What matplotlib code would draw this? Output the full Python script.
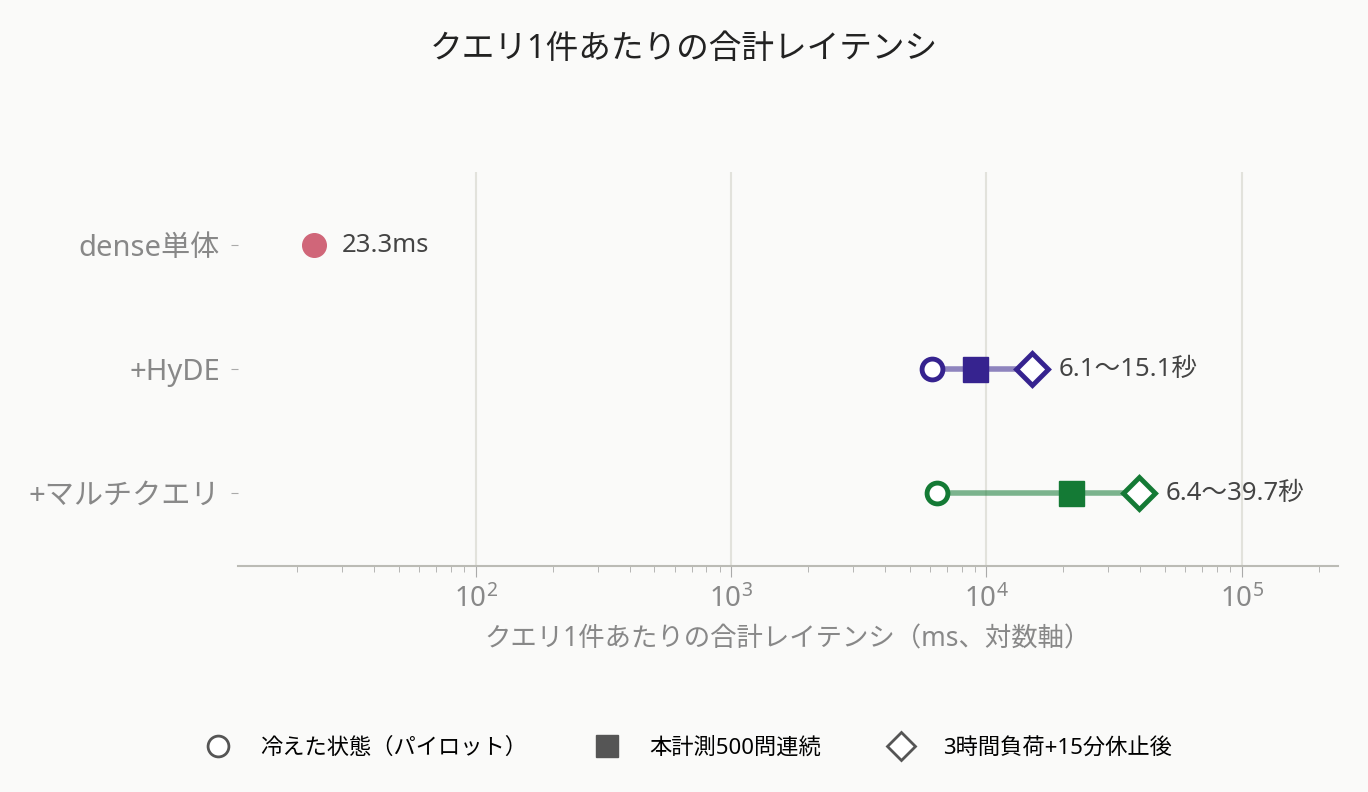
import numpy as np
import matplotlib
matplotlib.use("Agg")
import matplotlib.pyplot as plt
from matplotlib.lines import Line2D

plt.rcParams['font.family'] = ['Noto Sans', 'Noto Sans CJK JP', 'DejaVu Sans']

categories = ["dense単体", "+HyDE", "+マルチクエリ"]
cold_ms = [23.3, 6100, 6400]
main_ms = [None, 9000, 21500]
rest_ms = [None, 15100, 39700]
labels = ["23.3ms", "6.1〜15.1秒", "6.4〜39.7秒"]
colors = ["#d06679", "#36238f", "#147a35"]
legend_labels = ["冷えた状態（パイロット）", "本計測500問連続", "3時間負荷+15分休止後"]

bg = "#fafaf9"
fig = plt.figure(figsize=(13.68, 7.92), dpi=100, facecolor=bg)
ax = fig.add_axes([0.174, 0.285, 0.804, 0.498], facecolor=bg)

ax.set_xscale("log")
ax.set_xlim(11.7, 2.38e5)
ax.set_ylim(2.59, -0.59)

for i, cat in enumerate(categories):
    c = colors[i]
    if main_ms[i] is None:
        ax.plot(cold_ms[i], i, "o", ms=17, color=c, mec=c, zorder=3)
        ax.annotate(labels[i], (cold_ms[i], i), xytext=(20, 0), textcoords="offset points",
                    va="center", ha="left", fontsize=18.5, color="#444444")
    else:
        ax.plot([cold_ms[i], rest_ms[i]], [i, i], color=c, alpha=0.55, lw=4, zorder=2)
        ax.plot(cold_ms[i], i, "o", ms=15, mfc="white", mec=c, mew=3.5, zorder=3)
        ax.plot(main_ms[i], i, "s", ms=18, color=c, zorder=3)
        ax.plot(rest_ms[i], i, "D", ms=16, mfc="white", mec=c, mew=3.5, zorder=3)
        ax.annotate(labels[i], (rest_ms[i], i), xytext=(19, 0), textcoords="offset points",
                    va="center", ha="left", fontsize=18.5, color="#444444")

ax.set_yticks(range(len(categories)))
ax.set_yticklabels(categories, fontsize=21, color="#888888")
ax.tick_params(axis="y", length=5, color="#aaaaaa", pad=8)
ax.tick_params(axis="x", which="major", length=8, color="#aaaaaa", labelsize=20,
               labelcolor="#888888", pad=6)
ax.tick_params(axis="x", which="minor", length=4, color="#aaaaaa")

ax.grid(axis="x", which="major", color="#e2e2dc", lw=1.5)
ax.set_axisbelow(True)
for s in ["top", "right", "left"]:
    ax.spines[s].set_visible(False)
ax.spines["bottom"].set_color("#bbbbb5")
ax.spines["bottom"].set_linewidth(1.5)

ax.set_xlabel("クエリ1件あたりの合計レイテンシ（ms、対数軸）", fontsize=19, color="#888888", labelpad=8)
fig.suptitle("クエリ1件あたりの合計レイテンシ", fontsize=23.5, y=0.958, color="#222222")

handles = [
    Line2D([], [], marker="o", ls="", ms=15, mfc="white", mec="#555555", mew=2),
    Line2D([], [], marker="s", ls="", ms=16, color="#555555"),
    Line2D([], [], marker="D", ls="", ms=14, mfc="white", mec="#555555", mew=2),
]
fig.legend(handles, legend_labels, loc="center", bbox_to_anchor=(0.5, 0.055), ncol=3,
           frameon=False, fontsize=16, handletextpad=0.9, columnspacing=2.6)

fig.savefig("out.png", facecolor=bg)
